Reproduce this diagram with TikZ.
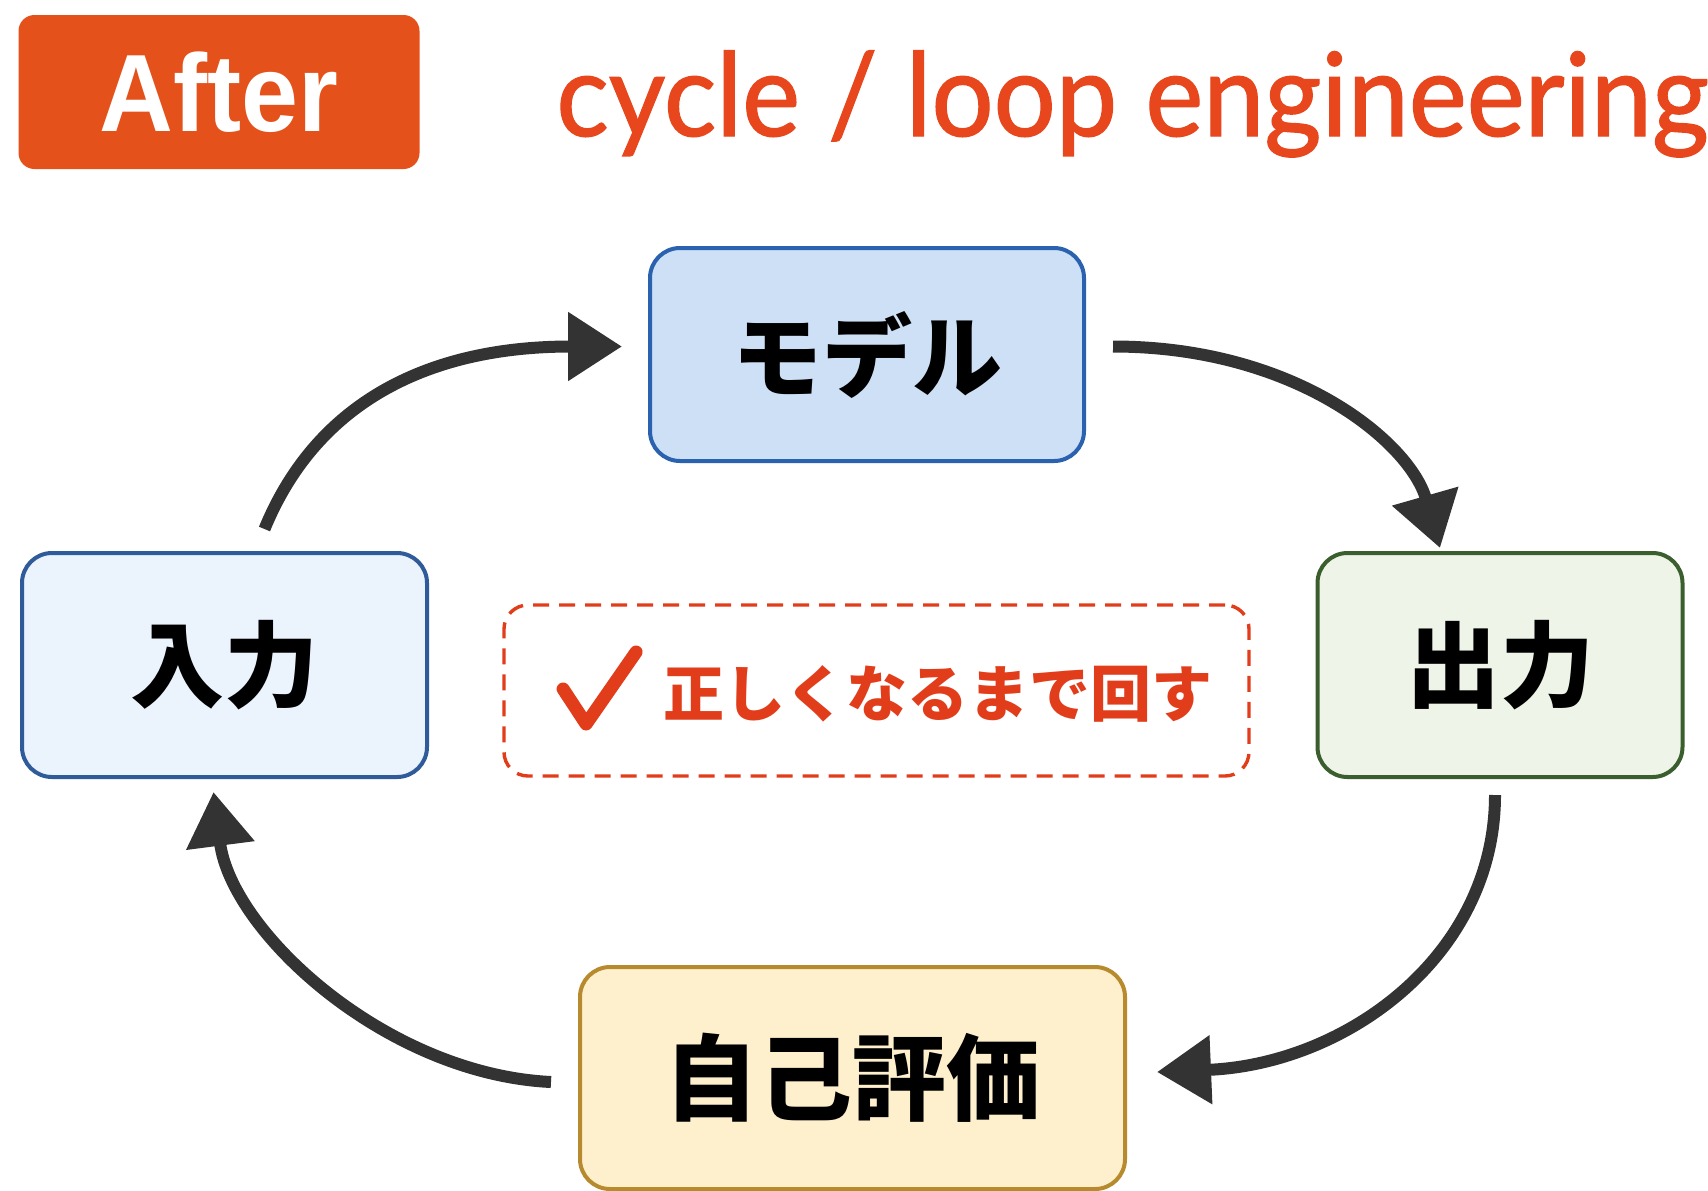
\documentclass[tikz,border=0pt]{standalone}
\usepackage{fontspec}
\usetikzlibrary{arrows.meta,calc}
\newfontfamily\cjk{Noto Sans CJK JP}
\newfontfamily\titlefont[FakeBold=1.2]{Lato}
\newfontfamily\badgefont{Liberation Sans}

\definecolor{accent}{HTML}{E8461C}
\definecolor{notered}{HTML}{E23D1B}
\definecolor{badgefill}{HTML}{E4511A}
\definecolor{arrowc}{HTML}{333333}
\definecolor{modfill}{HTML}{CDE0F6}
\definecolor{moddraw}{HTML}{2B62B0}
\definecolor{infill}{HTML}{EBF3FC}
\definecolor{indraw}{HTML}{2F5B9A}
\definecolor{outfill}{HTML}{EEF4E8}
\definecolor{outdraw}{HTML}{3B5E2E}
\definecolor{evalfill}{HTML}{FEF0CD}
\definecolor{evaldraw}{HTML}{B88A2E}

\tikzset{
  stagebox/.style={rounded corners=15pt, line width=2pt, align=center,
    inner sep=0pt, text=black, font=\cjk\bfseries\fontsize{47}{47}\selectfont},
  loopnote/.style={rounded corners=12pt, line width=1.7pt, draw=notered,
    dash pattern=on 8pt off 5pt, inner sep=0pt},
  arr/.style={draw=arrowc, line width=6pt, -{Triangle[length=27pt,width=33pt]}},
}

\begin{document}
\begin{tikzpicture}[x=0.5pt, y=-0.5pt]
  % canvas
  \fill[white] (0,0) rectangle (1708,1190);
  \useasboundingbox (0,0) rectangle (1708,1190);

  % header
  \node[fill=badgefill, rounded corners=8pt, minimum width=200.5pt,
        minimum height=77pt, inner sep=0pt, text=white,
        font=\badgefont\bfseries\fontsize{55}{55}\selectfont] (badge) at (219,92)
        {\scalebox{0.93}[1]{After}};
  \node[anchor=base west, inner sep=0pt, text=accent,
        font=\titlefont\fontsize{58}{58}\selectfont] (title) at (556,136)
        {\scalebox{0.945}[1]{cycle / loop engineering}};

  % stages of the loop
  \node[stagebox, fill=modfill, draw=moddraw, minimum width=217pt, minimum height=106.5pt,
        font=\cjk\bfseries\fontsize{45}{45}\selectfont]
        (mod) at (867,354.5) {モデル};
  \node[stagebox, fill=infill, draw=indraw, minimum width=202.5pt, minimum height=112pt]
        (inp) at (224.5,665) {入力};
  \node[stagebox, fill=outfill, draw=outdraw, minimum width=182.5pt, minimum height=112pt]
        (outp) at (1500,665) {出力};
  \node[stagebox, fill=evalfill, draw=evaldraw, minimum width=272.5pt, minimum height=111pt]
        (eval) at (852.5,1078) {\raisebox{-3pt}{自己評価}};

  % centre note: dashed frame, tick and caption
  \node[loopnote, minimum width=372.5pt, minimum height=85.5pt] (note) at (876.5,690.5) {};
  \node[inner sep=0pt, text=notered, font=\cjk\bfseries\fontsize{30.5}{30.5}\selectfont]
        (notetext) at (938,694) {正しくなるまで回す};
  \coordinate (tick) at ($(notetext.west)+(-100,-1)$);
  \draw[notered, line width=6.5pt, line cap=round, line join=round]
        ($(tick)+(0,-4)$) -- ($(tick)+(23,31)$) -- ($(tick)+(73,-41)$);

  % cycle connectors
  \coordinate (a1s) at ($(inp.north)+(40,-22)$);
  \coordinate (a1e) at ($(mod.west)+(-26,-8)$);
  \draw[arr] (a1s) .. controls ($(a1s)+(50,-122)$) and ($(a1e)+(-200,0)$) .. (a1e);

  \coordinate (a2s) at ($(mod.east)+(27,-8)$);
  \coordinate (a2e) at ($(outp.north)+(-60,-3)$);
  \draw[arr] (a2s) .. controls ($(a2s)+(183,0)$) and ($(a2e)+(-30,-105)$) .. (a2e);

  \coordinate (a3s) at ($(outp.south)+(-5,16)$);
  \coordinate (a3e) at ($(eval.east)+(30,-6)$);
  \draw[arr] (a3s) .. controls ($(a3s)+(0,160)$) and ($(a3e)+(190,-8)$) .. (a3e);

  \coordinate (a4s) at ($(eval.west)+(-27,4)$);
  \coordinate (a4e) at ($(inp.south)+(-11,13)$);
  \draw[arr] (a4s) .. controls ($(a4s)+(-165,-8)$) and ($(a4e)+(18,140)$) .. (a4e);
\end{tikzpicture}
\end{document}
